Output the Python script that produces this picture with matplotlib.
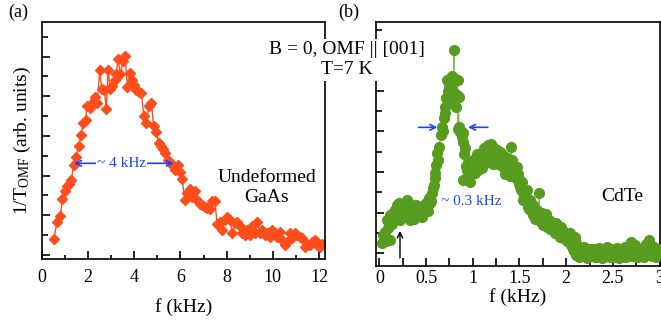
import numpy as np
import matplotlib.pyplot as plt
from matplotlib.ticker import MultipleLocator, NullFormatter

plt.rcParams['font.family'] = ['Liberation Serif', 'DejaVu Serif']
plt.rcParams['mathtext.fontset'] = 'custom'
plt.rcParams['mathtext.rm'] = 'Liberation Serif'
plt.rcParams['mathtext.it'] = 'Liberation Serif:italic'

# painel (a) - GaAs nao deformado
f_gaas = [0.52, 0.65, 0.80, 0.88, 0.98, 1.08, 1.17, 1.27, 1.37, 1.47, 1.59, 1.69, 1.79, 1.89,
          1.95, 2.07, 2.18, 2.28, 2.40, 2.50, 2.60, 2.70, 2.79, 2.86, 2.96, 3.05, 3.15, 3.22,
          3.29, 3.40, 3.51, 3.60, 3.70, 3.82, 3.92, 4.00, 4.09, 4.21, 4.31, 4.41, 4.52, 4.63,
          4.74, 4.84, 4.96, 5.05, 5.15, 5.25, 5.35, 5.46, 5.57, 5.68, 5.78, 5.88, 5.97, 6.07,
          6.19, 6.29, 6.40, 6.51, 6.62, 6.72, 6.84, 6.94, 7.04, 7.16, 7.27, 7.37, 7.49, 7.59,
          7.71, 7.81, 7.92, 8.02, 8.14, 8.24, 8.36, 8.46, 8.57, 8.67, 8.79, 8.89, 9.01, 9.11,
          9.22, 9.32, 9.44, 9.54, 9.66, 9.76, 9.87, 9.98, 10.09, 10.19, 10.31, 10.41, 10.52,
          10.63, 10.74, 10.84, 10.96, 11.06, 11.18, 11.28, 11.39, 11.49, 11.61, 11.71, 11.83,
          11.93, 12.04, 12.14]
t_gaas = [0.41, 0.83, 0.98, 1.41, 1.62, 1.73, 1.78, 1.89, 2.26, 2.48, 2.74, 3.03, 3.32, 3.39,
          3.76, 3.70, 3.83, 3.98, 3.83, 4.65, 4.17, 4.15, 3.68, 4.65, 4.17, 4.27, 4.42, 4.57,
          4.94, 4.55, 4.88, 5.01, 4.23, 4.59, 4.42, 4.29, 4.15, 4.11, 4.08, 3.49, 3.32, 3.75,
          3.83, 3.24, 3.11, 2.82, 2.74, 2.68, 2.57, 2.40, 2.31, 2.23, 2.15, 2.27, 2.10, 1.91,
          1.39, 1.56, 1.66, 1.47, 1.60, 1.39, 1.29, 1.26, 1.22, 1.18, 1.15, 1.36, 1.35, 0.78,
          0.84, 0.63, 0.88, 0.97, 0.88, 0.55, 0.80, 0.84, 0.72, 0.55, 0.51, 0.63, 0.51, 0.72,
          0.56, 0.84, 0.55, 0.63, 0.51, 0.55, 0.46, 0.63, 0.55, 0.46, 0.59, 0.38, 0.25,
          0.34, 0.55, 0.42, 0.55, 0.51, 0.46, 0.42, 0.21, 0.29, 0.25, 0.34, 0.38,
          0.25, 0.21, 0.29]

# painel (b) - CdTe (pontos principais)
f_cdte = [0.025, 0.06, 0.08, 0.11, 0.11, 0.15, 0.17, 0.19, 0.20, 0.22, 0.24, 0.26, 0.29, 0.31,
          0.33, 0.35, 0.36, 0.39, 0.41, 0.44, 0.46, 0.48, 0.51, 0.53, 0.54, 0.56, 0.58, 0.59,
          0.61, 0.62, 0.64, 0.67, 0.69, 0.70, 0.71, 0.72, 0.74, 0.75, 0.76, 0.78, 0.79, 0.80,
          0.81, 0.82, 0.84, 0.85, 0.84, 0.86, 0.88, 0.90, 0.92, 0.90, 0.94, 0.97, 0.99, 1.02,
          1.04, 1.06, 1.09, 1.11, 1.13, 1.16, 1.18, 1.20, 1.22, 1.24, 1.26, 1.28, 1.30, 1.32,
          1.35, 1.36, 1.38, 1.41, 1.43, 1.45, 1.47, 1.49, 1.51, 1.53, 1.54, 1.56, 1.59, 1.61,
          1.63, 1.65, 1.68, 1.69, 1.71, 1.73, 1.76, 1.78, 1.80, 1.82, 1.85, 1.86, 1.89, 1.91,
          1.94, 1.95, 1.98, 2.00, 2.03, 2.04, 2.07, 2.09, 2.11, 2.13, 2.16, 2.18, 2.20, 2.22,
          2.25, 2.27, 2.29, 2.32, 2.34, 2.36, 2.38, 2.41, 2.43, 2.45, 2.48, 2.50, 2.53, 2.55,
          2.57, 2.60, 2.61, 2.64, 2.66, 2.69, 2.70, 2.73, 2.75, 2.78, 2.80, 2.82, 2.85, 2.87,
          2.89, 2.91, 2.93, 2.95, 2.96, 2.99]
t_cdte = [0.25, 0.53, 0.82, 0.33, 0.94, 0.90, 1.07, 1.19, 0.98, 0.82, 1.15, 1.08, 1.31, 0.98,
          0.82, 1.15, 1.07, 1.19, 0.94, 1.02, 0.90, 1.19, 1.11, 1.35, 1.23, 1.48, 1.68, 1.97,
          2.17, 2.46, 2.62, 3.11, 3.32, 3.61, 3.81, 4.26, 3.77, 4.10, 3.93, 3.69, 4.26, 5.00,
          3.89, 3.61, 4.26, 3.85, 3.07, 2.99, 2.87, 2.95, 2.58, 1.80, 2.05, 1.76, 2.13, 1.97,
          2.38, 2.05, 2.21, 2.50, 2.30, 2.66, 2.38, 2.58, 2.21, 2.42, 2.54, 2.30, 2.46, 2.13,
          2.30, 2.05, 2.21, 2.62, 2.13, 1.97, 2.13, 1.84, 1.64, 1.76, 1.31, 1.48, 1.15, 1.31,
          1.02, 1.19, 0.90, 1.07, 1.48, 0.90, 0.78, 0.98, 0.74, 0.82, 0.66, 0.57, 0.74, 0.49,
          0.66, 0.45, 0.53, 0.41, 0.33, 0.49, 0.12, 0.41, -0.04, 0.16, 0.00, 0.12, 0.04, -0.12,
          0.08, -0.04, 0.04, -0.08, 0.08, 0.00, -0.12, 0.04, 0.12, -0.04, 0.08, -0.08, 0.00, 0.04,
          -0.12, 0.12, 0.00, -0.08, 0.08, 0.29, 0.00, 0.12, -0.08, 0.04, -0.04, 0.08, 0.16, -0.04,
          0.34, 0.12, 0.00, 0.08, -0.08, 0.04]

# painel (b) - pontos intermediarios (regioes densas)
f_cdte_extra = [0.04, 0.07, 0.09, 0.13, 0.14, 0.18, 0.21, 0.23, 0.27, 0.28, 0.30, 0.32, 0.34,
                0.37, 0.40, 0.42, 0.45, 0.47, 0.50, 0.52, 0.55, 0.57, 0.60, 0.63, 0.66,
                0.68, 0.70, 0.73, 0.74, 0.77, 0.78, 0.80, 0.81, 0.83, 0.85, 0.87, 0.89, 0.91,
                0.93, 0.95, 0.96, 0.98,
                1.00, 1.03, 1.05, 1.08, 1.10, 1.12, 1.15, 1.17, 1.19, 1.21, 1.23, 1.25, 1.27,
                1.29, 1.31, 1.33, 1.34, 1.37, 1.39, 1.40, 1.42, 1.44, 1.46, 1.48, 1.50, 1.52,
                1.55, 1.57, 1.58, 1.60, 1.62, 1.64, 1.66, 1.67, 1.70, 1.72, 1.74, 1.75, 1.77,
                1.79, 1.81, 1.83, 1.84, 1.87, 1.88, 1.90, 1.92, 1.93, 1.96, 1.97, 1.99, 2.01,
                2.02, 2.05, 2.06, 2.08, 2.10,
                2.12, 2.14, 2.15, 2.17, 2.19, 2.21, 2.23, 2.24, 2.26, 2.28, 2.30, 2.31, 2.33,
                2.35, 2.37, 2.39, 2.40, 2.42, 2.44, 2.46, 2.47, 2.49, 2.51, 2.52, 2.54, 2.56,
                2.58, 2.59, 2.62, 2.63, 2.65, 2.67, 2.68, 2.71, 2.72, 2.74, 2.76, 2.77, 2.79,
                2.81, 2.83, 2.84, 2.86, 2.88, 2.90, 2.92, 2.94, 2.97, 2.98]
t_cdte_extra = [0.45, 0.30, 0.62, 0.72, 1.00, 0.88, 1.25, 0.95, 1.20, 0.90, 1.10, 1.25, 0.95,
                0.85, 1.05, 1.10, 1.15, 1.00, 1.25, 1.05, 1.30, 1.60, 1.85, 2.30, 2.90,
                3.00, 3.45, 4.00, 4.30, 4.10, 4.35, 3.95, 4.30, 3.90, 3.10, 3.00, 2.75, 2.45,
                2.15, 1.95, 2.25, 1.95,
                2.30, 2.20, 2.45, 2.35, 2.10, 2.60, 2.45, 2.25, 2.70, 2.40, 2.60, 2.35, 2.20,
                2.50, 2.30, 2.40, 1.95, 2.35, 2.10, 1.90, 2.30, 2.05, 1.85, 1.95, 1.70, 1.55,
                1.40, 1.30, 1.55, 1.10, 1.25, 0.95, 1.10, 0.85, 0.95, 0.80, 1.00, 0.70, 0.85,
                0.65, 0.80, 0.60, 0.75, 0.65, 0.50, 0.62, 0.55, 0.40, 0.58, 0.38, 0.50, 0.30,
                0.45, 0.20, 0.35, 0.05, 0.25,
                0.05, -0.08, 0.10, -0.05, 0.15, 0.02, 0.10, -0.06, 0.12, 0.00, 0.10, -0.10, 0.02,
                0.14, -0.06, 0.06, -0.10, 0.00, 0.15, 0.02, -0.10, 0.05, 0.10, -0.06, 0.14, -0.02,
                0.08, -0.10, 0.05, 0.15, -0.05, 0.02, 0.15, -0.06, 0.06, 0.20, 0.02, -0.10, 0.10,
                0.00, -0.08, 0.05, 0.22, 0.00, 0.10, -0.06, 0.15, 0.02, 0.12]

fig = plt.figure(figsize=(6.61, 3.22), dpi=100)
ax1 = fig.add_axes([0.0635, 0.1957, 0.4282, 0.736])
ax2 = fig.add_axes([0.5684, 0.1739, 0.4301, 0.7578])

# ---- (a)
ax1.plot(f_gaas, t_gaas, '-D', color='#ff4d1c', lw=1.0, ms=5.5, mec='#ff4d1c')
ax1.set_xlim(0, 12.26)
ax1.set_ylim(-0.1, 5.87)
ax1.xaxis.set_major_locator(MultipleLocator(2))
ax1.xaxis.set_minor_locator(MultipleLocator(1))
ax1.yaxis.set_major_locator(MultipleLocator(1))
ax1.yaxis.set_minor_locator(MultipleLocator(0.5))
ax1.yaxis.set_major_formatter(NullFormatter())
ax1.tick_params(which='both', direction='in', top=False, right=False, labelsize=13, width=1.2)
ax1.tick_params(axis='x', which='major', length=6, pad=7)
ax1.tick_params(axis='x', which='minor', length=3)
ax1.tick_params(axis='y', which='major', length=6)
ax1.tick_params(axis='y', which='minor', length=4)
ax1.set_xlabel('f (kHz)', fontsize=14, labelpad=9)
ax1.set_ylabel(r'1/T$_{\rm OMF}$ (arb. units)', fontsize=14, labelpad=3)

ax1.annotate('', xy=(1.27, 2.31), xytext=(5.83, 2.31),
             arrowprops=dict(arrowstyle='<->', color='#1a44ff', lw=1.2))
ax1.text(3.44, 2.31, '~ 4 kHz', color='#1a44ff', fontsize=11, ha='center', va='center',
         bbox=dict(facecolor='white', edgecolor='none', pad=1))
ax1.text(9.73, 1.7, 'Undeformed\nGaAs', fontsize=14, ha='center', va='center', linespacing=1.25)

# ---- (b)
f_all = np.concatenate([f_cdte, f_cdte_extra])
t_all = np.concatenate([t_cdte, t_cdte_extra])
ordem = np.argsort(f_all, kind='stable')
f_all, t_all = f_all[ordem], t_all[ordem]
ax2.plot(f_all, t_all, '-', color='#86ba52', lw=0.8, zorder=2)
ax2.plot(f_all, t_all, 'o', color='#579c1e', ms=7, zorder=3)
ax2.set_xlim(-0.04, 3.005)
ax2.set_ylim(-0.31, 5.69)
ax2.xaxis.set_major_locator(MultipleLocator(0.5))
ax2.xaxis.set_minor_locator(MultipleLocator(0.25))
ax2.xaxis.set_major_formatter(lambda v, p: '%g' % v)
ax2.yaxis.set_major_locator(MultipleLocator(1))
ax2.yaxis.set_minor_locator(MultipleLocator(0.5))
ax2.yaxis.set_major_formatter(NullFormatter())
ax2.tick_params(which='both', direction='in', top=False, right=False, labelsize=13, width=1.2)
ax2.tick_params(axis='x', which='major', length=6, pad=3)
ax2.tick_params(axis='x', which='minor', length=6)
ax2.tick_params(axis='y', which='major', length=6)
ax2.tick_params(axis='y', which='minor', length=4)
ax2.set_xlabel('f (kHz)', fontsize=14, labelpad=1)

ax2.annotate('', xy=(0.65, 3.10), xytext=(0.39, 3.10),
             arrowprops=dict(arrowstyle='->', color='#1a44ff', lw=1.2))
ax2.annotate('', xy=(0.92, 3.10), xytext=(1.19, 3.10),
             arrowprops=dict(arrowstyle='->', color='#1a44ff', lw=1.2))
ax2.text(0.66, 1.27, '~ 0.3 kHz', color='#1a44ff', fontsize=11, ha='left', va='center')
ax2.annotate('', xy=(0.22, 0.62), xytext=(0.22, -0.18),
             arrowprops=dict(arrowstyle='->', color='black', lw=1.0))
ax2.text(2.6, 1.39, 'CdTe', fontsize=14, ha='center', va='center')

for a in (ax1, ax2):
    for s in a.spines.values():
        s.set_linewidth(1.2)

fig.text(0.012, 0.962, '(a)', fontsize=13, ha='left', va='center')
fig.text(0.511, 0.962, '(b)', fontsize=13, ha='left', va='center')
fig.text(0.525, 0.815, 'B = 0, OMF || [001]\nT=7 K', fontsize=14, ha='center', va='center',
         linespacing=1.2, zorder=10,
         bbox=dict(facecolor='white', edgecolor='none', pad=2))

fig.savefig('out.png', dpi=100)
